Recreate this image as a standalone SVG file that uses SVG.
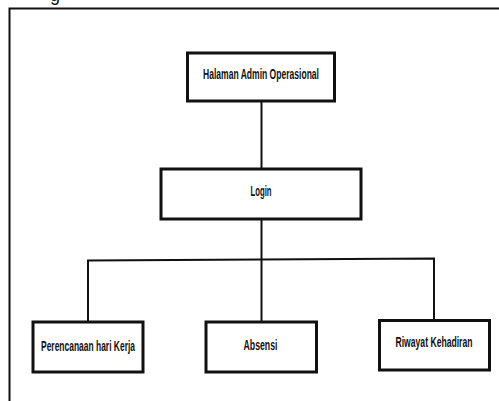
<svg xmlns="http://www.w3.org/2000/svg" width="499" height="401" viewBox="0 0 499 401">
  <style>
    .box { fill: #ffffff; stroke: #111111; stroke-width: 3; }
    .wire { fill: none; stroke: #111111; stroke-width: 2; }
    .frame { fill: none; stroke: #111111; stroke-width: 2; }
    .label { font-family: "Liberation Sans Narrow", "Liberation Sans", Arial, sans-serif; font-weight: bold; font-size: 14px; fill: #111111; text-anchor: middle; }
  </style>
  <rect width="499" height="401" fill="#ffffff"/>
  <!-- caption text cut off at the top edge -->
  <text x="50" y="0.5" font-family="Liberation Sans, Arial, sans-serif" font-size="18" fill="#111111">g</text>
  <!-- outer frame -->
  <path class="frame" d="M9.5,401 V8.5 H499"/>

  <g id="connectors">
    <line class="wire" x1="261.5" y1="101" x2="261.5" y2="169"/>
    <line class="wire" x1="261.5" y1="219" x2="261.5" y2="322"/>
    <path class="wire" d="M88,322 V260.5 L434,258.5 V320.5"/>
  </g>

  <g id="node-halaman">
    <rect class="box" x="187.5" y="53" width="147" height="48"/>
    <text class="label" x="261" y="79" textLength="116" lengthAdjust="spacingAndGlyphs">Halaman Admin Operasional</text>
  </g>
  <g id="node-login">
    <rect class="box" x="161" y="169" width="200" height="50"/>
    <text class="label" x="261" y="196" textLength="21" lengthAdjust="spacingAndGlyphs">Login</text>
  </g>
  <g id="node-perencanaan">
    <rect class="box" x="33" y="322" width="110" height="50"/>
    <text class="label" x="88" y="351" textLength="94" lengthAdjust="spacingAndGlyphs">Perencanaan hari Kerja</text>
  </g>
  <g id="node-absensi">
    <rect class="box" x="206" y="322" width="110.5" height="50"/>
    <text class="label" x="260.5" y="350" textLength="34" lengthAdjust="spacingAndGlyphs">Absensi</text>
  </g>
  <g id="node-riwayat">
    <rect class="box" x="379.5" y="320.5" width="110" height="49.5"/>
    <text class="label" x="434" y="347" textLength="77" lengthAdjust="spacingAndGlyphs">Riwayat Kehadiran</text>
  </g>
</svg>
